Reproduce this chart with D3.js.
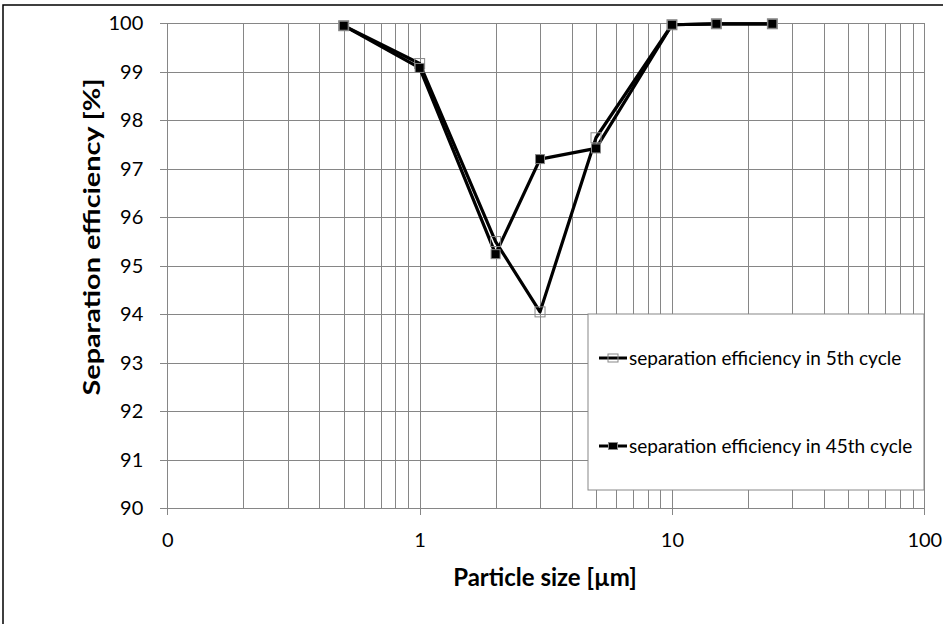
<!DOCTYPE html>
<html>
<head>
<meta charset="utf-8">
<script src="https://cdn.jsdelivr.net/npm/d3@7"></script>
<style>
  body { margin: 0; background: #fff; }
  svg { display: block; font-family: Lato, "Open Sans", sans-serif; }
</style>
</head>
<body>
<svg width="949" height="624"></svg>
<script>
// data
const sizes = [0.5, 1, 2, 3, 5, 10, 15, 25];
const cycle5 = [99.95, 99.17, 95.5, 94.05, 97.64, 99.97, 99.99, 99.99];
const cycle45 = [99.95, 99.08, 95.24, 97.2, 97.42, 99.97, 99.99, 99.99];
const seriesNames = ["separation efficiency in 5th cycle", "separation efficiency in 45th cycle"];
const xTickValues = [0.1, 1, 10, 100];
const xTickLabels = ["0", "1", "10", "100"];
const yTickValues = [90, 91, 92, 93, 94, 95, 96, 97, 98, 99, 100];

const svg = d3.select("svg");
const plotL = 167.3, plotR = 924.3, plotT = 23.3, plotB = 508.3;
const gridColor = "#868686";

// outer frame (top + left only visible)
svg.append("path")
   .attr("d", "M3,624 V5 H943")
   .attr("fill", "none")
   .attr("stroke", "#000")
   .attr("stroke-width", 1.5);

const xScale = d3.scaleLog().domain([0.1, 100]).range([plotL, plotR]);
const yScale = d3.scaleLinear().domain([90, 100]).range([plotB, plotT]);

// GRID
svg.append("g")
   .attr("transform", "translate(0," + plotB + ")")
   .call(d3.axisBottom(xScale).tickValues(xScale.ticks()).tickSize(-(plotB - plotT)).tickFormat(""))
   .call(g => g.select(".domain").remove())
   .call(g => g.selectAll("line").attr("stroke", gridColor).attr("shape-rendering", "crispEdges"));

svg.append("g")
   .attr("transform", "translate(" + plotL + ",0)")
   .call(d3.axisLeft(yScale).tickValues(yTickValues).tickSize(-(plotR - plotL)).tickFormat(""))
   .call(g => g.select(".domain").remove())
   .call(g => g.selectAll("line").attr("stroke", gridColor).attr("shape-rendering", "crispEdges"));

// X AXIS
svg.append("g")
   .attr("transform", "translate(0," + plotB + ")")
   .call(d3.axisBottom(xScale).tickValues(xTickValues).tickSize(7).tickPadding(18)
     .tickFormat((d, i) => xTickLabels[i]))
   .call(g => g.select(".domain").attr("stroke", gridColor).attr("shape-rendering", "crispEdges"))
   .call(g => g.selectAll("line").attr("stroke", gridColor).attr("shape-rendering", "crispEdges"))
   .call(g => g.selectAll("text").attr("font-size", "20px").attr("fill", "#000").attr("font-family", "Lato"));

// Y AXIS
svg.append("g")
   .attr("transform", "translate(" + plotL + ",0)")
   .call(d3.axisLeft(yScale).tickValues(yTickValues).tickSize(7).tickPadding(17))
   .call(g => g.select(".domain").attr("stroke", gridColor).attr("shape-rendering", "crispEdges"))
   .call(g => g.selectAll("line").attr("stroke", gridColor).attr("shape-rendering", "crispEdges"))
   .call(g => g.selectAll("text").attr("font-size", "20px").attr("fill", "#000").attr("font-family", "Lato"));

// AXIS TITLES
svg.append("text")
   .attr("x", 545)
   .attr("y", 586)
   .attr("text-anchor", "middle")
   .attr("font-weight", "bold")
   .attr("font-size", "24px")
   .text("Particle size [µm]");

svg.append("text")
   .attr("transform", "translate(100,237) rotate(-90)")
   .attr("text-anchor", "middle")
   .attr("font-weight", "bold")
   .attr("font-size", "23px")
   .attr("textLength", 317)
   .attr("lengthAdjust", "spacingAndGlyphs")
   .text("Separation efficiency [%]");

// LINES
const line = d3.line().x(d => xScale(d[0])).y(d => yScale(d[1]));
const series = [
  { name: seriesNames[0], values: sizes.map((s, i) => [s, cycle5[i]]), fill: "#fff", size: 10 },
  { name: seriesNames[1], values: sizes.map((s, i) => [s, cycle45[i]]), fill: "#000", size: 9 }
];

series.forEach(s => {
  svg.append("path")
     .datum(s.values)
     .attr("d", line)
     .attr("fill", "none")
     .attr("stroke", "#000")
     .attr("stroke-width", 3.2)
     .attr("stroke-linejoin", "round");
});
series.forEach(s => {
  svg.append("g").selectAll("rect")
     .data(s.values)
     .enter()
     .append("rect")
     .attr("x", d => xScale(d[0]) - s.size / 2)
     .attr("y", d => yScale(d[1]) - s.size / 2)
     .attr("width", s.size)
     .attr("height", s.size)
     .attr("fill", s.fill)
     .attr("fill-opacity", s.fill === "#fff" ? 0 : 1)
     .attr("stroke", "#888")
     .attr("stroke-width", 1);
});

// LEGEND
const legend = svg.append("g").attr("transform", "translate(588,314)");
legend.append("rect")
   .attr("width", 336)
   .attr("height", 176)
   .attr("fill", "#fff")
   .attr("stroke", "#888")
   .attr("stroke-width", 1);

const rows = legend.selectAll(".row")
   .data(series)
   .enter()
   .append("g")
   .attr("class", "row")
   .attr("transform", (d, i) => "translate(0," + (44 + i * 88) + ")");

rows.append("line")
   .attr("x1", 11).attr("x2", 39)
   .attr("stroke", "#000").attr("stroke-width", 3);
rows.append("rect")
   .attr("x", d => 25 - d.size / 2)
   .attr("y", d => -d.size / 2 + 1)
   .attr("width", d => d.size)
   .attr("height", d => d.size - 2)
   .attr("fill", d => d.fill)
   .attr("fill-opacity", d => d.fill === "#fff" ? 0 : 1)
   .attr("stroke", "#888");
rows.append("text")
   .attr("x", 41)
   .attr("y", 7)
   .attr("font-size", "19px")
   .text(d => d.name);
</script>
</body>
</html>
